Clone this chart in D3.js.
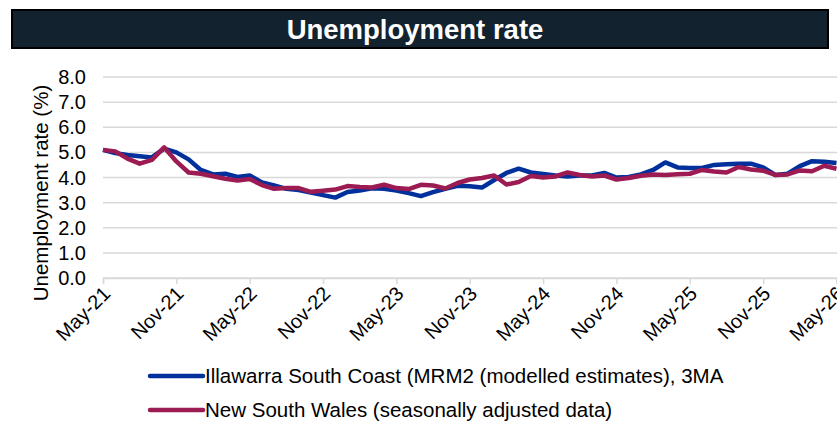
<!DOCTYPE html>
<html>
<head>
<meta charset="utf-8">
<script src="https://cdn.jsdelivr.net/npm/d3@7"></script>
<style>
  body { margin: 0; background: #fff; }
  text { font-family: "Liberation Sans", Arial, sans-serif; }
</style>
</head>
<body>
<script>
// monthly categories May-21 .. May-26
var months = d3.timeMonth.range(new Date(2021, 4, 1), new Date(2026, 5, 1));
var tickLabels = ["May-21", "Nov-21", "May-22", "Nov-22", "May-23", "Nov-23",
                  "May-24", "Nov-24", "May-25", "Nov-25", "May-26"];
var yTicks = [0, 1, 2, 3, 4, 5, 6, 7, 8];

var illawarra = [5.1, 4.97, 4.9, 4.85, 4.8, 5.15, 5.0, 4.72, 4.3, 4.12,
                 4.15, 4.02, 4.08, 3.8, 3.68, 3.55, 3.5, 3.4, 3.3, 3.2,
                 3.42, 3.48, 3.57, 3.55, 3.48, 3.38, 3.26, 3.42, 3.55, 3.67,
                 3.65, 3.6, 3.9, 4.18, 4.35, 4.2, 4.14, 4.08, 4.04, 4.08,
                 4.08, 4.18, 4.0, 4.02, 4.12, 4.3, 4.6, 4.4, 4.38, 4.38,
                 4.5, 4.53, 4.55, 4.55, 4.4, 4.1, 4.15, 4.45, 4.65, 4.63,
                 4.58];
var nsw = [5.1, 5.04, 4.75, 4.55, 4.7, 5.2, 4.64, 4.2, 4.15, 4.05,
           3.95, 3.88, 3.94, 3.7, 3.55, 3.58, 3.58, 3.43, 3.47, 3.52,
           3.66, 3.62, 3.6, 3.71, 3.58, 3.54, 3.71, 3.68, 3.56, 3.78,
           3.92, 3.98, 4.08, 3.72, 3.82, 4.06, 4.0, 4.04, 4.2, 4.1,
           4.04, 4.08, 3.92, 3.98, 4.07, 4.12, 4.1, 4.13, 4.15, 4.3,
           4.24, 4.2, 4.42, 4.32, 4.27, 4.1, 4.12, 4.28, 4.25, 4.47,
           4.35];

var series = [
  { name: "Illawarra South Coast (MRM2 (modelled estimates), 3MA", values: illawarra, color: "#00309c" },
  { name: "New South Wales (seasonally adjusted data)", values: nsw, color: "#9c1b52" }
];

var width = 837, height = 426;
var margin = { top: 77, right: 0.5, bottom: 148, left: 103 };

var svg = d3.select("body").append("svg")
  .attr("width", width)
  .attr("height", height);

// title bar
svg.append("rect")
  .attr("x", 12).attr("y", 10)
  .attr("width", 816).attr("height", 38)
  .attr("fill", "#12232f")
  .attr("stroke", "#000")
  .attr("stroke-width", 2);
svg.append("text")
  .attr("x", 415).attr("y", 29)
  .attr("dy", "0.35em")
  .attr("text-anchor", "middle")
  .attr("fill", "#fff")
  .attr("font-weight", "bold")
  .attr("font-size", 27.5)
  .text("Unemployment rate");

var x = d3.scalePoint()
  .domain(d3.range(months.length))
  .range([margin.left, width - margin.right]);

var y = d3.scaleLinear()
  .domain([0, 8])
  .range([height - margin.bottom, margin.top]);

// gridlines
svg.append("g")
  .selectAll("line")
  .data(yTicks)
  .join("line")
  .attr("x1", margin.left)
  .attr("x2", width)
  .attr("y1", function(d) { return y(d); })
  .attr("y2", function(d) { return y(d); })
  .attr("stroke", "#d9d9d9")
  .attr("stroke-width", 1.5);

// y labels
svg.append("g")
  .selectAll("text")
  .data(yTicks)
  .join("text")
  .attr("x", 86)
  .attr("y", function(d) { return y(d); })
  .attr("dy", "0.35em")
  .attr("text-anchor", "end")
  .attr("font-size", 20)
  .attr("fill", "#000")
  .text(function(d) { return d3.format(".1f")(d); });

svg.append("text")
  .attr("transform", "translate(41," + 193 + ") rotate(-90)")
  .attr("dy", "0.35em")
  .attr("text-anchor", "middle")
  .attr("font-size", 20.5)
  .attr("fill", "#000")
  .text("Unemployment rate (%)");

// x axis
var tickIdx = tickLabels.map(function(d, i) { return i * 6; });
var xAxis = d3.axisBottom(x)
  .tickValues(tickIdx)
  .tickSize(6)
  .tickFormat(function(d, i) { return tickLabels[i]; });

var gx = svg.append("g")
  .attr("transform", "translate(0," + y(0) + ")")
  .call(xAxis);
gx.select(".domain").attr("stroke", "#d9d9d9").attr("stroke-width", 1.5);
gx.selectAll(".tick line").attr("stroke", "#d9d9d9").attr("stroke-width", 1.5);
gx.selectAll(".tick text")
  .attr("font-size", 20)
  .attr("font-family", "Liberation Sans, Arial, sans-serif")
  .attr("fill", "#000")
  .attr("text-anchor", "end")
  .attr("x", 0).attr("y", 0).attr("dy", 0)
  .attr("transform", "translate(8,17) rotate(-45)");

// lines
var line = d3.line()
  .x(function(d, i) { return x(i); })
  .y(function(d) { return y(d); });

svg.append("g")
  .selectAll("path")
  .data(series)
  .join("path")
  .attr("d", function(s) { return line(s.values); })
  .attr("fill", "none")
  .attr("stroke", function(s) { return s.color; })
  .attr("stroke-width", 4.5)
  .attr("stroke-linejoin", "round");

// legend
var legend = svg.append("g")
  .selectAll("g")
  .data(series)
  .join("g")
  .attr("transform", function(s, i) { return "translate(150," + (376 + i * 34) + ")"; });
legend.append("line")
  .attr("x1", 0).attr("x2", 53)
  .attr("stroke", function(s) { return s.color; })
  .attr("stroke-width", 4.5)
  .attr("stroke-linecap", "round");
legend.append("text")
  .attr("x", 55)
  .attr("dy", "0.35em")
  .attr("font-size", 20.5)
  .attr("fill", "#000")
  .text(function(s) { return s.name; });
</script>
</body>
</html>
